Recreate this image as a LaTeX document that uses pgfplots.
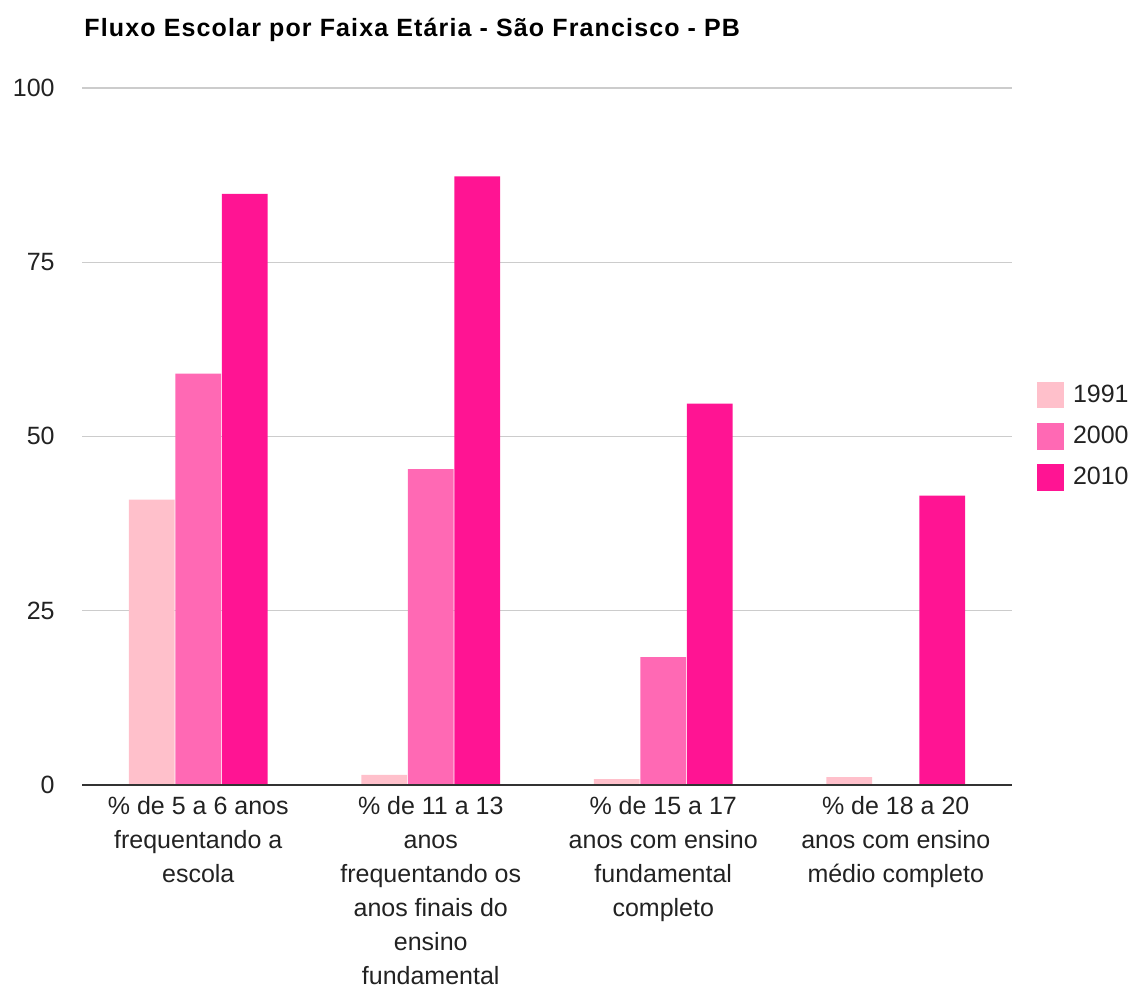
\documentclass[border=0pt]{standalone}
\usepackage{pgfplots}
\pgfplotsset{compat=1.18}
\usepackage{fontspec}
\setmainfont{Liberation Sans}
\newfontfamily\titlefont[LetterSpace=4.6]{Liberation Sans}
\definecolor{c1991}{HTML}{FFC0CB}
\definecolor{c2000}{HTML}{FF69B4}
\definecolor{c2010}{HTML}{FF1493}
\definecolor{txt}{HTML}{222222}
\definecolor{axl}{HTML}{333333}
\definecolor{grd}{HTML}{CCCCCC}
\begin{document}
\begin{tikzpicture}
\path[use as bounding box] (0,0) rectangle (568pt,494.5pt);
\begin{axis}[
    at={(41pt,102.15pt)}, anchor=south west,
    scale only axis,
    width=465pt, height=348.35pt,
    xmin=-0.5, xmax=3.5,
    ymin=0, ymax=100,
    axis lines*=left,
    x axis line style={draw=axl, line width=0.85pt, -},
    y axis line style={draw=none},
    ymajorgrids,
    major grid style={draw=grd, line width=0.65pt},
    major tick length=0pt,
    ytick={0,25,50,75,100},
    xtick={0,1,2,3},
    xticklabels={
        {\% de 5 a 6 anos\\frequentando a\\escola},
        {\% de 11 a 13\\anos\\frequentando os\\anos finais do\\ensino\\fundamental},
        {\% de 15 a 17\\anos com ensino\\fundamental\\completo},
        {\% de 18 a 20\\anos com ensino\\médio completo}},
    xticklabel style={align=center, anchor=north, inner sep=0pt, yshift=-5.8pt,
        font=\fontsize{12.5}{17}\selectfont, text=txt},
    yticklabel style={anchor=east, inner sep=0pt, xshift=-13.5pt,
        font=\fontsize{12.5}{15}\selectfont, text=txt},
    /pgf/number format/assume math mode=true,
    bar width=0.196,
    legend style={at={(rel axis cs:1,0.5)}, anchor=west, xshift=12.5pt,
        draw=none, fill=none, inner sep=0pt, row sep=7.4pt,
        /tikz/column sep=4.5pt,
        nodes={inner sep=0pt, text=txt, font=\fontsize{12.5}{15}\selectfont}},
    legend cell align=left,
    legend image code/.code={\fill[#1] (0pt,-6.7pt) rectangle (13.3pt,6.6pt);},
]
\addplot[ybar, bar shift=-0.2, fill=c1991, draw=none]
    coordinates {(0,40.9) (1,1.4) (2,0.8) (3,1.1)};
\addlegendentry{1991}
\addplot[ybar, bar shift=0, fill=c2000, draw=none]
    coordinates {(0,59.0) (1,45.3) (2,18.3)};
\addlegendentry{2000}
\addplot[ybar, bar shift=0.2, fill=c2010, draw=none]
    coordinates {(0,84.8) (1,87.3) (2,54.7) (3,41.5)};
\addlegendentry{2010}
\addplot[draw=axl, line width=0.85pt, forget plot] coordinates {(-0.5,0) (3.5,0)};
\end{axis}
\node[anchor=base west, inner sep=0pt, text=black,
    font=\titlefont\bfseries\fontsize{12.5}{14}\selectfont] at (42pt,476pt)
    {Fluxo Escolar por Faixa Etária - São Francisco - PB};
\end{tikzpicture}
\end{document}
